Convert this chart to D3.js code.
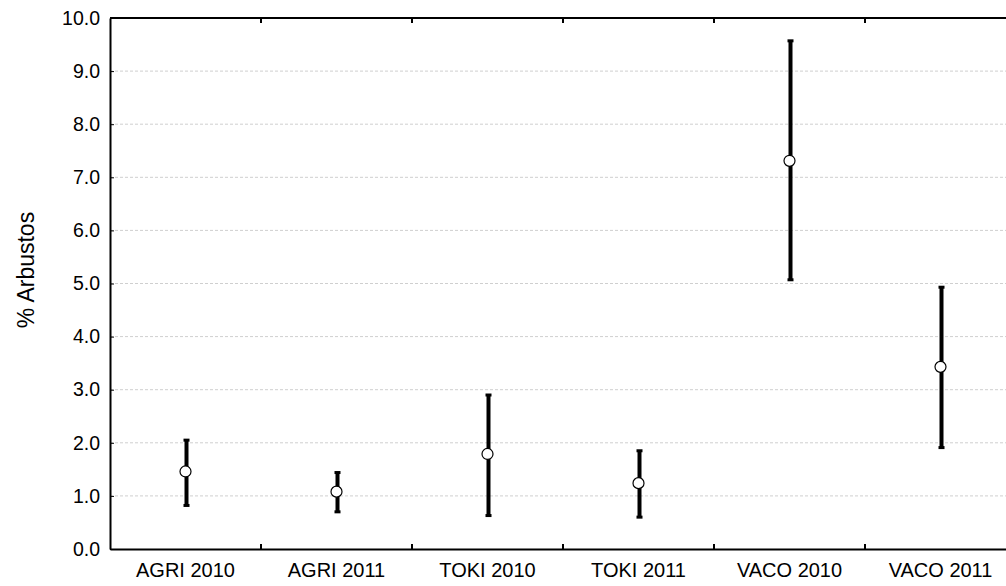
<!DOCTYPE html>
<html>
<head>
<meta charset="utf-8">
<script src="https://cdn.jsdelivr.net/npm/d3@7"></script>
<style>
  body { margin: 0; background: #fff; }
  svg { display: block; }
  svg text { font-family: "Liberation Sans", Arial, sans-serif; }
</style>
</head>
<body>
<svg id="chart" width="1006" height="586"></svg>
<script>
// Shrub cover (%) by site and year: mean with interval limits
const categories = ["AGRI 2010", "AGRI 2011", "TOKI 2010", "TOKI 2011", "VACO 2010", "VACO 2011"];
const means = [1.46, 1.08, 1.79, 1.24, 7.31, 3.43];
const upper = [2.05, 1.44, 2.90, 1.85, 9.57, 4.93];
const lower = [0.82, 0.70, 0.63, 0.60, 5.07, 1.91];
const yTicks = [0, 1, 2, 3, 4, 5, 6, 7, 8, 9, 10];

const svg = d3.select("#chart");
const plotLeft = 110, plotRight = 1016, plotTop = 18, plotBottom = 549;
const font = "'Liberation Sans', Arial, sans-serif";

const x = d3.scaleBand().domain(categories).range([plotLeft, plotRight]);
const y = d3.scaleLinear().domain([0, 10]).range([plotBottom, plotTop]);

// dashed horizontal gridlines
svg.append("g")
  .selectAll("line")
  .data(yTicks.filter(d => d > 0 && d < 10))
  .join("line")
  .attr("x1", plotLeft).attr("x2", plotRight)
  .attr("y1", d => y(d)).attr("y2", d => y(d))
  .attr("stroke", "#cfcfcf")
  .attr("stroke-width", 1)
  .attr("stroke-dasharray", "3,2");

// y axis with inward ticks
const yAxis = svg.append("g")
  .attr("transform", `translate(${plotLeft},0)`)
  .call(d3.axisLeft(y).tickValues(yTicks).tickFormat(d3.format(".1f")).tickSizeInner(-4).tickSizeOuter(0).tickPadding(10));
yAxis.attr("font-family", font);
yAxis.select(".domain").attr("stroke", "#000").attr("stroke-width", 2);
yAxis.selectAll(".tick line").attr("stroke", "#000").attr("stroke-width", 1);
yAxis.selectAll(".tick text").attr("font-size", 19.5).attr("fill", "#000");

// bottom axis with inward ticks at category boundaries
const xAxis = svg.append("g")
  .attr("transform", `translate(0,${plotBottom})`)
  .call(d3.axisBottom(x).tickSize(0).tickPadding(14));
xAxis.attr("font-family", font);
xAxis.select(".domain").attr("stroke", "#000").attr("stroke-width", 2);
xAxis.selectAll(".tick text").attr("font-size", 20).attr("fill", "#000");

const boundaries = categories.slice(1).map(c => x(c));
svg.append("g").selectAll("line").data(boundaries).join("line")
  .attr("x1", d => d).attr("x2", d => d)
  .attr("y1", plotBottom).attr("y2", plotBottom - 5)
  .attr("stroke", "#000").attr("stroke-width", 2);

// top frame line with inward ticks
svg.append("line")
  .attr("x1", plotLeft).attr("x2", plotRight)
  .attr("y1", plotTop).attr("y2", plotTop)
  .attr("stroke", "#000").attr("stroke-width", 2);
svg.append("g").selectAll("line").data(boundaries).join("line")
  .attr("x1", d => d).attr("x2", d => d)
  .attr("y1", plotTop).attr("y2", plotTop + 5)
  .attr("stroke", "#000").attr("stroke-width", 2);

// y axis title
svg.append("text")
  .attr("transform", `translate(34,270) rotate(-90)`)
  .attr("text-anchor", "middle")
  .attr("font-family", font)
  .attr("font-size", 23)
  .attr("fill", "#000")
  .text("% Arbustos");

// interval whiskers
const rows = categories.map((c, i) => ({ c, m: means[i], lo: lower[i], hi: upper[i] }));
const cx = d => x(d.c) + x.bandwidth() / 2;
const marks = svg.append("g");
marks.selectAll("line.whisker").data(rows).join("line")
  .attr("class", "whisker")
  .attr("x1", d => cx(d) + 1).attr("x2", d => cx(d) + 1)
  .attr("y1", d => y(d.hi)).attr("y2", d => y(d.lo))
  .attr("stroke", "#000").attr("stroke-width", 4);
["hi", "lo"].forEach(k => {
  marks.selectAll("rect.cap-" + k).data(rows).join("rect")
    .attr("class", "cap-" + k)
    .attr("x", d => cx(d) - 2).attr("width", 6)
    .attr("y", d => y(d[k]) - 1.5).attr("height", 3)
    .attr("fill", "#000");
});

// mean markers
marks.selectAll("circle").data(rows).join("circle")
  .attr("cx", d => cx(d)).attr("cy", d => y(d.m))
  .attr("r", 5.5)
  .attr("fill", "#fff").attr("stroke", "#000").attr("stroke-width", 1.2);
</script>
</body>
</html>
